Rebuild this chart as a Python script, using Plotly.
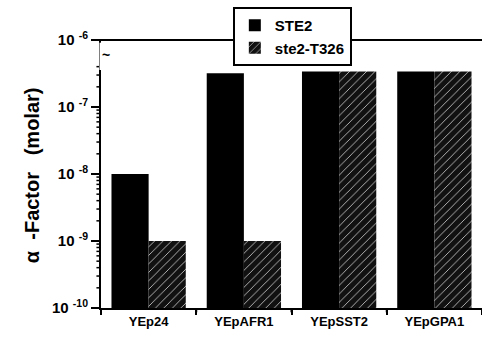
import math
import plotly.graph_objects as go

categories = ["YEp24", "YEpAFR1", "YEpSST2", "YEpGPA1"]
ste2 = [1e-8, 3.2e-7, 3.4e-7, 3.4e-7]
t326 = [1e-9, 1e-9, 3.4e-7, 3.4e-7]
ytick_vals = [1e-10, 1e-9, 1e-8, 1e-7, 1e-6]
ytick_text = ["10 <sup>-10</sup>", "10 <sup>-9</sup>", "10 <sup>-8</sup>", "10 <sup>-7</sup>", "10 <sup>-6</sup>"]
minor_vals = []
for dec in [1e-10, 1e-9, 1e-8]:
    minor_vals += [m * dec for m in range(2, 10)]
minor_vals += [m * 1e-7 for m in range(2, 5)]
Y_RANGE = [-10, -6]

FONT = "Liberation Sans, Arial, sans-serif"

fig = go.Figure()
fig.add_trace(go.Bar(
    x=categories, y=ste2, name="<b>STE2</b>",
    marker=dict(color="#000000", line=dict(width=0)),
))
fig.add_trace(go.Bar(
    x=categories, y=t326, name="<b>ste2-T326</b>",
    marker=dict(color="#111111", line=dict(width=0),
                pattern=dict(shape="/", fillmode="replace", bgcolor="#111111",
                             fgcolor="#bdbdbd", size=6, solidity=0.15)),
))

fig.update_layout(
    template="none",
    width=482, height=341,
    margin=dict(l=101, r=0, t=40, b=33, autoexpand=False),
    paper_bgcolor="white", plot_bgcolor="white",
    barmode="group", bargap=0.22, bargroupgap=0,
    font=dict(family=FONT, color="black"),
    showlegend=True,
    legend=dict(
        x=0.346, y=1.123, xanchor="left", yanchor="top",
        bgcolor="white", bordercolor="black", borderwidth=2,
        font=dict(size=15, family=FONT, color="black"),
        itemclick=False, tracegroupgap=0,
    ),
)
fig.update_xaxes(
    type="category", showgrid=False, showline=True, linecolor="black", linewidth=2,
    ticks="outside", tickson="boundaries", ticklen=5, tickwidth=2, tickcolor="black",
    tickfont=dict(size=13, family=FONT, color="black"),
    ticktext=["<b>%s</b>" % c for c in categories], tickvals=categories,
    tickmode="array", range=[-0.5, len(categories) - 0.5],
)
fig.update_yaxes(
    type="log", range=Y_RANGE, showgrid=False, showline=True, linecolor="black",
    linewidth=2, zeroline=False, mirror=False,
    tickmode="array", tickvals=ytick_vals, ticktext=["<b>%s</b>" % t for t in ytick_text],
    ticks="outside", ticklen=8, tickwidth=2, tickcolor="black",
    tickfont=dict(size=15, family=FONT, color="black"),
)


def ypaper(v):
    return (math.log10(v) - Y_RANGE[0]) / (Y_RANGE[1] - Y_RANGE[0])


# tick marks drawn explicitly from the tick arrays (major and minor)
for v in ytick_vals[:-1]:
    fig.add_shape(type="line", xref="paper", yref="paper", x0=-0.019, x1=0,
                  y0=ypaper(v), y1=ypaper(v), line=dict(color="black", width=2))
for v in minor_vals:
    fig.add_shape(type="line", xref="paper", yref="paper", x0=-0.012, x1=0,
                  y0=ypaper(v), y1=ypaper(v), line=dict(color="black", width=1.5))
for i in range(len(categories) + 1):
    b = i - 0.5
    fig.add_shape(type="line", xref="x", yref="paper", x0=b, x1=b, y0=0, y1=-0.016,
                  line=dict(color="black", width=2))

# white gap for the axis break
fig.add_shape(type="line", xref="paper", yref="paper", x0=0, x1=0, y0=0.888, y1=0.99,
              line=dict(color="white", width=3))
# top line at 10^-6
fig.add_shape(type="line", xref="paper", yref="paper", x0=-0.021, x1=1, y0=1, y1=1,
              line=dict(color="black", width=2))
fig.add_annotation(xref="paper", yref="paper", x=-0.003, y=0.98, text="<b>~</b>",
                   showarrow=False, font=dict(size=14, family=FONT, color="black"))
fig.add_annotation(xref="paper", yref="paper", x=-0.215, y=0.496,
                   text="<b>α  -Factor   (molar)</b>",
                   textangle=-90, showarrow=False,
                   font=dict(size=20, family=FONT, color="black"))

fig.write_html("out.html", config={"displayModeBar": False},
               post_script="document.body.style.margin='0px';")
